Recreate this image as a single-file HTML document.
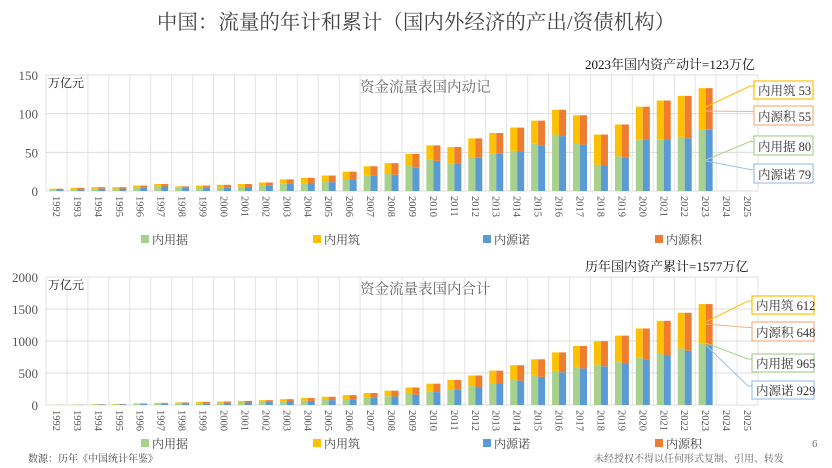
<!DOCTYPE html>
<html><head><meta charset="utf-8"><style>
html,body{margin:0;padding:0;background:#fff;}
svg{display:block;font-family:"Liberation Serif","Noto Serif CJK SC",serif;}
</style></head><body>
<svg id="s" width="832" height="468" viewBox="0 0 832 468" xmlns="http://www.w3.org/2000/svg">
<text x="416" y="29" text-anchor="middle" font-size="20.5" fill="#444">中国：流量的年计和累计（国内外经济的产出/资债机构）</text>
</svg>
<script>
var s=document.getElementById('s');var NS='http://www.w3.org/2000/svg';
function el(t,a,txt){var e=document.createElementNS(NS,t);for(var k in a)e.setAttribute(k,a[k]);if(txt!==undefined)e.textContent=txt;s.appendChild(e);return e;}
var tot=[3,4,5,5,7,9,6,7,8,9,11,15,17,20,25,32,36,48,59,57,68,75,82,91,105,98,73,86,109,117,123,133];
var g=[2,2.5,3,3,4.5,6,4,4.5,5,5.5,7,9.5,10,12,15.5,20.5,22,33,41,36,44,49,52,61,73,62,34,45,67,67,70,80];
var b=[1.9,2.4,2.9,2.9,4.3,5.8,3.9,4.3,4.8,5.3,6.7,9.2,9.7,11.5,15,19.5,21,30,39,35,43,48,51,59,71,60,33,43,66,66,68,79];
var C={g:'#a9d18e',y:'#ffc000',b:'#5b9bd5',o:'#ed7d31'};
function chart(o){
 var x0=46,x1=758,cw=(x1-x0)/34;
 for(var i=0;i<=34;i++){var x=x0+i*cw;el('line',{x1:x,x2:x,y1:o.top,y2:o.base,stroke:'#e3e3e3','stroke-width':1});}
 o.ticks.forEach(function(t){var y=o.base-t/o.max*(o.base-o.top);el('line',{x1:x0,x2:x1,y1:y,y2:y,stroke:'#dcdcdc','stroke-width':1});el('text',{x:38,y:y+5,'text-anchor':'end','font-size':13,fill:'#555'},t);});
 for(var i=0;i<34;i++){
  var cx=x0+i*cw+cw/2;
  el('text',{x:0,y:0,'font-size':10.5,fill:'#555',transform:'translate('+(cx-3.5)+','+(o.base+5)+') rotate(90)'},1992+i);
  if(i>=o.T.length)continue;
  var k=(o.base-o.top)/o.max,T=o.T[i],G=o.G[i],B=o.B[i];
  el('rect',{x:cx-7,y:o.base-G*k,width:7,height:G*k,fill:C.g});
  el('rect',{x:cx-7,y:o.base-T*k,width:7,height:(T-G)*k,fill:C.y});
  el('rect',{x:cx,y:o.base-B*k,width:7,height:B*k,fill:C.b});
  el('rect',{x:cx,y:o.base-T*k,width:7,height:(T-B)*k,fill:C.o});
 }
 el('text',{x:48,y:o.top+12,'font-size':12,fill:'#222'},'万亿元');
 el('text',{x:360,y:o.top+17,'font-size':14.5,fill:'#666'},o.title);
 el('text',{x:o.rx,y:o.top-6,'font-size':13,fill:'#111'},o.right);
 var lx=x0+31*cw+cw/2;
 o.boxes.forEach(function(bx){
  el('polyline',{points:lx+','+bx.py+' '+(bx.x-4)+','+(bx.y+bx.h/2-4)+' '+bx.x+','+(bx.y+bx.h/2-4),fill:'none',stroke:bx.c,'stroke-width':1});
  el('rect',{x:bx.x,y:bx.y,width:bx.w,height:bx.h,fill:'#fff',stroke:bx.c,'stroke-width':1.2});
  el('text',{x:bx.x+4,y:bx.y+bx.h-4,'font-size':12.5,fill:'#333'},bx.t);
 });
 var ly=o.leg;[[145,C.g,'内用据'],[317,C.y,'内用筑'],[487,C.b,'内源诺'],[659,C.o,'内源积']].forEach(function(l){
  el('rect',{x:l[0]-4,y:ly-4,width:8,height:8,fill:l[1]});el('text',{x:l[0]+7,y:ly+5,'font-size':12,fill:'#444'},l[2]);});
}
chart({top:75,base:191,max:150,ticks:[0,50,100,150],T:tot,G:g,B:b,title:'资金流量表国内动记',right:'2023年国内资产动计=123万亿',rx:585,leg:239,
 boxes:[{x:754,y:81,w:59,h:18,c:'#ffc000',t:'内用筑 53',py:107},{x:754,y:106,w:59,h:19,c:'#f4b183',t:'内源积 55',py:111},{x:754,y:136,w:59,h:19,c:'#a9d18e',t:'内用据 80',py:160},{x:754,y:164,w:59,h:19,c:'#9dc3e6',t:'内源诺 79',py:161}]});
var sT=0,sG=0,sB=0;for(var i=0;i<tot.length;i++){sT+=tot[i];sG+=g[i];sB+=b[i];}
var cT=[],cG=[],cB=[],a=0,bg=0,bb=0;
for(var i=0;i<tot.length;i++){a+=tot[i]*1577/sT;bg+=g[i]*965/sG;bb+=b[i]*929/sB;cT.push(a);cG.push(Math.min(bg,a));cB.push(Math.min(bb,a));}
chart({top:277,base:405,max:2000,ticks:[0,500,1000,1500,2000],T:cT,G:cG,B:cB,title:'资金流量表国内合计',right:'历年国内资产累计=1577万亿',rx:585,leg:443,
 boxes:[{x:752,y:296,w:62,h:18,c:'#ffc000',t:'内用筑 612',py:322},{x:752,y:322,w:62,h:19,c:'#f4b183',t:'内源积 648',py:324},{x:752,y:354,w:62,h:18,c:'#a9d18e',t:'内用据 965',py:343},{x:752,y:381,w:62,h:18,c:'#9dc3e6',t:'内源诺 929',py:345}]});
el('text',{x:812,y:447,'font-size':11,fill:'#777'},'6');
el('text',{x:28,y:462,'font-size':10,fill:'#444'},'数源：历年《中国统计年鉴》');
el('text',{x:594,y:462,'font-size':10,fill:'#666'},'未经授权不得以任何形式复制、引用、转发');
</script>
</body></html>
